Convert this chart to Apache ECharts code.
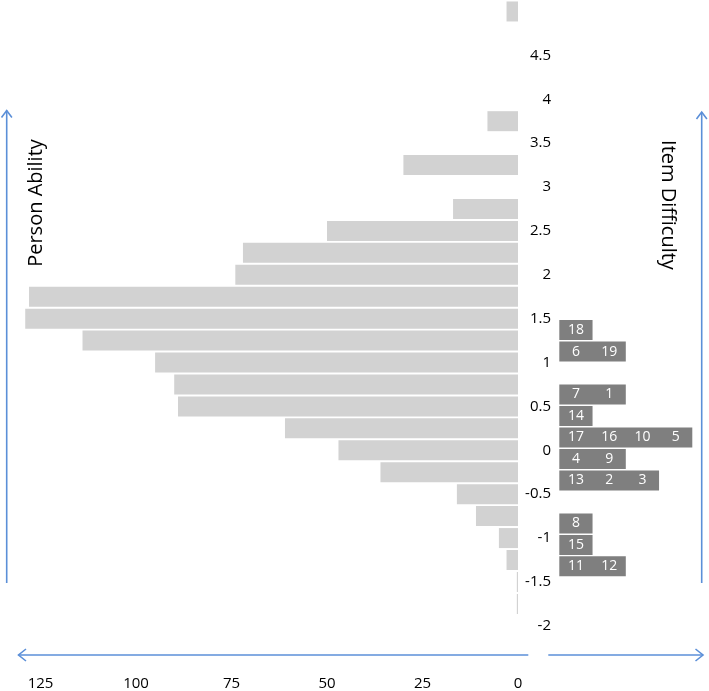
<!DOCTYPE html>
<html>
<head>
<meta charset="utf-8">
<script src="https://cdn.jsdelivr.net/npm/echarts@6/dist/echarts.min.js"></script>
<style>
html,body{margin:0;padding:0;background:#fff;}
#chart{width:709px;height:691px;}
</style>
</head>
<body>
<div id="chart"></div>
<script>
// Person ability bins (logits) from top to bottom
const personBins = ['5','4.75','4.5','4.25','4','3.75','3.5','3.25','3','2.75','2.5','2.25','2','1.75','1.5','1.25','1','0.75','0.5','0.25','0','-0.25','-0.5','-0.75','-1','-1.25','-1.5','-1.75','-2'];
// Number of persons in each bin
const personCounts = [3,0,0,0,0,8,0,30,0,17,50,72,74,128,129,114,95,90,89,61,47,36,16,11,5,3,0.3,0.3,0];
// Axis tick labels
const yTickLabels = ['4.5','4','3.5','3','2.5','2','1.5','1','0.5','0','-0.5','-1','-1.5','-2'];
const xTickLabels = [0,25,50,75,100,125];
// Item difficulty bins and the items located in each
const itemBins = ['1.375','1.125','0.875','0.625','0.375','0.125','-0.125','-0.375','-0.625','-0.875','-1.125','-1.375'];
const itemRows = [[18],[6,19],[],[7,1],[14],[17,16,10,5],[4,9],[13,2,3],[],[8],[15],[11,12]];
// Titles
const leftTitle = 'Person Ability';
const rightTitle = 'Item Difficulty';

const FONT = '"Open Sans", "Noto Sans", sans-serif';
const BLUE = '#5b8fd8';
const ITEM_GRAY = '#7f7f7f';

const itemCounts = itemRows.map(r => r.length);
const ITEM_MAX = 4;
const ITEM_GRID_LEFT = 559.3, ITEM_GRID_RIGHT = 16.7;
const cellW = (709 - ITEM_GRID_LEFT - ITEM_GRID_RIGHT) / ITEM_MAX;

function arrow(points) {
  return { type: 'polyline', shape: { points }, style: { stroke: BLUE, lineWidth: 1.6, fill: null } };
}

const chart = echarts.init(document.getElementById('chart'), null, { renderer: 'canvas' });
chart.setOption({
  animation: false,
  backgroundColor: '#ffffff',
  grid: [
    { left: 21.4, right: 191, top: 0.5, bottom: 54.2 },
    { left: ITEM_GRID_LEFT, right: ITEM_GRID_RIGHT, top: 319.3, bottom: 113.9 }
  ],
  xAxis: [
    {
      gridIndex: 0, type: 'value', inverse: true, min: 0, max: 130, interval: 25,
      axisLine: { show: false }, axisTick: { show: false }, splitLine: { show: false },
      axisLabel: {
        margin: 39, fontSize: 15, color: '#000', fontFamily: FONT, showMaxLabel: false,
        formatter: (v) => (xTickLabels.includes(v) ? String(v) : '')
      }
    },
    {
      gridIndex: 1, type: 'value', min: 0, max: ITEM_MAX, show: false
    }
  ],
  yAxis: [
    {
      gridIndex: 0, type: 'category', data: personBins, inverse: true, position: 'right',
      axisLine: { show: false }, axisTick: { show: false }, splitLine: { show: false },
      axisLabel: {
        interval: 0, align: 'right', margin: 33, fontSize: 15, color: '#000', fontFamily: FONT,
        padding: [0, 0, 8, 0],
        formatter: (v) => (yTickLabels.includes(v) ? v : '')
      }
    },
    {
      gridIndex: 1, type: 'category', data: itemBins, inverse: true, show: false
    }
  ],
  series: [
    {
      type: 'bar',
      xAxisIndex: 0,
      yAxisIndex: 0,
      barWidth: 20,
      itemStyle: { color: '#d2d2d2' },
      silent: true,
      data: personCounts
    },
    {
      type: 'bar',
      xAxisIndex: 1,
      yAxisIndex: 1,
      barWidth: 20,
      itemStyle: { color: ITEM_GRAY },
      silent: true,
      label: {
        show: true,
        position: 'insideLeft',
        distance: 0,
        formatter: (p) => itemRows[p.dataIndex].map(id => '{c|' + id + '}').join(''),
        rich: {
          c: { width: cellW, align: 'center', color: '#ffffff', fontSize: 14, fontFamily: FONT }
        }
      },
      data: itemCounts.map(c => (c > 0 ? c : '-'))
    }
  ],
  graphic: [
    // left vertical arrow
    { type: 'line', shape: { x1: 6.7, y1: 110.5, x2: 6.7, y2: 583 }, style: { stroke: BLUE, lineWidth: 1.6 } },
    arrow([[1.5, 117.5], [6.7, 110.5], [11.9, 117.5]]),
    // right vertical arrow
    { type: 'line', shape: { x1: 701.7, y1: 112, x2: 701.7, y2: 583 }, style: { stroke: BLUE, lineWidth: 1.6 } },
    arrow([[696.5, 119], [701.7, 112], [706.9, 119]]),
    // bottom left arrow
    { type: 'line', shape: { x1: 18.5, y1: 655, x2: 528.3, y2: 655 }, style: { stroke: BLUE, lineWidth: 1.6 } },
    arrow([[26, 649], [18.5, 655], [26, 661]]),
    // bottom right arrow
    { type: 'line', shape: { x1: 548.3, y1: 655, x2: 703, y2: 655 }, style: { stroke: BLUE, lineWidth: 1.6 } },
    arrow([[695.5, 649], [703, 655], [695.5, 661]]),
    // titles
    {
      type: 'text', x: 36, y: 203, rotation: Math.PI / 2,
      style: { text: leftTitle, fontSize: 20, fontFamily: FONT, fill: '#000', align: 'center', verticalAlign: 'middle' }
    },
    {
      type: 'text', x: 668, y: 205, rotation: -Math.PI / 2,
      style: { text: rightTitle, fontSize: 20, fontFamily: FONT, fill: '#000', align: 'center', verticalAlign: 'middle' }
    }
  ]
});
</script>
</body>
</html>
